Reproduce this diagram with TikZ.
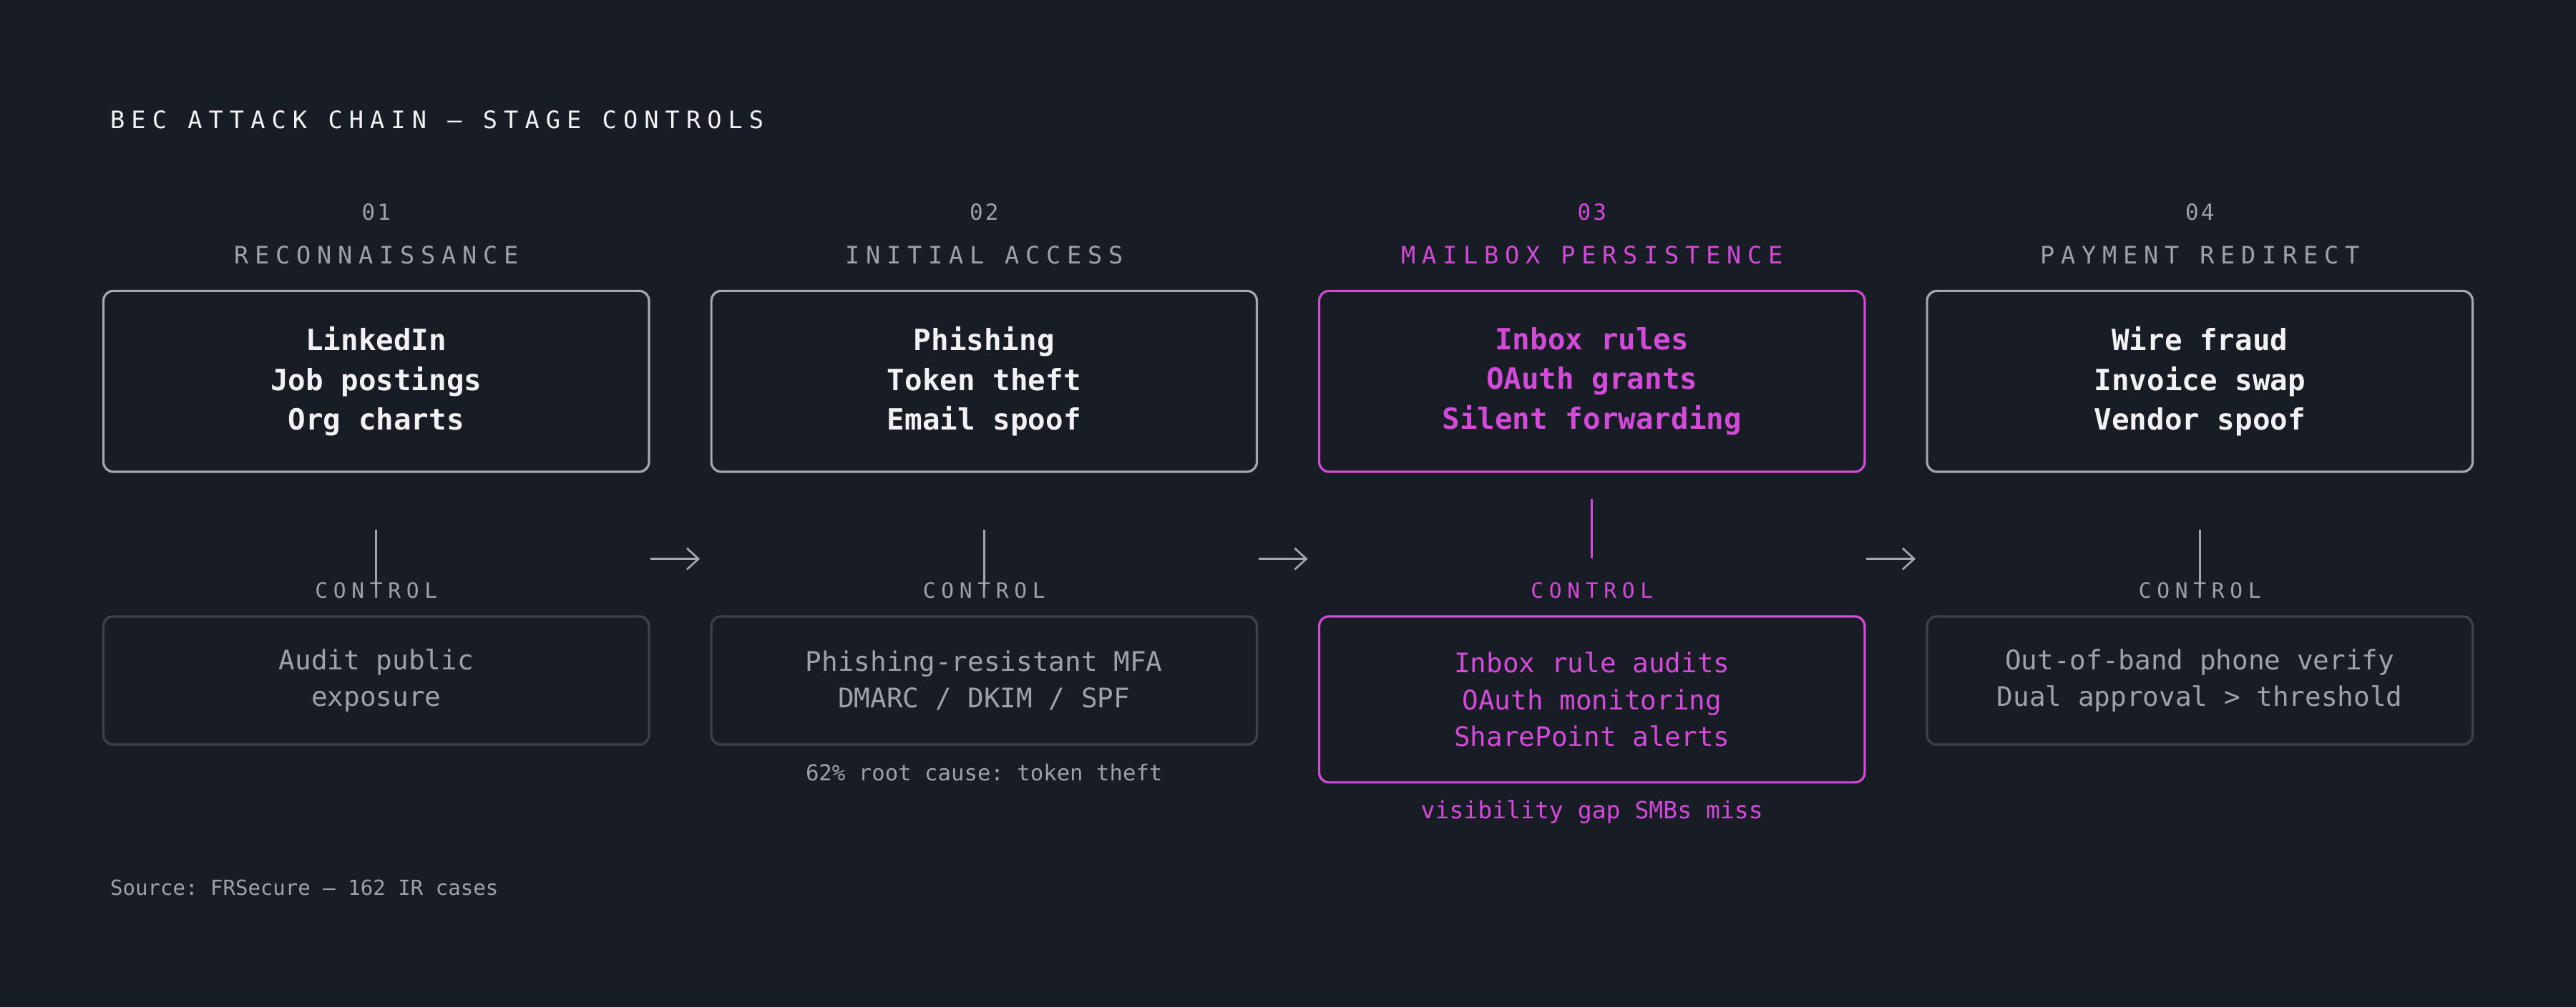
\documentclass[tikz,border=0pt]{standalone}
\usepackage{fontspec}
\setmonofont{DejaVu Sans Mono}
\usetikzlibrary{arrows.meta,positioning}
\definecolor{bgdark}{HTML}{181C25}
\definecolor{hotpink}{HTML}{D24BD8}
\definecolor{greytxt}{HTML}{9DA1AA}
\definecolor{boxline}{HTML}{A3A7AF}
\definecolor{ctrlline}{HTML}{3C414C}
\definecolor{whitetxt}{HTML}{F2F2F6}
\tikzset{
  stagebox/.style={draw=boxline, line width=1.2pt, rounded corners=5pt, inner sep=0pt,
    minimum width=9.96cm, minimum height=3.3cm, align=center, text=whitetxt,
    font=\ttfamily\bfseries\fontsize{15.2}{20.5}\selectfont},
  ctrlbox/.style={draw=ctrlline, line width=1.2pt, rounded corners=5pt, inner sep=0pt,
    minimum width=9.96cm, minimum height=2.34cm, align=center, text=greytxt,
    font=\ttfamily\fontsize{14}{19.2}\selectfont},
  stagenum/.style={text=greytxt, font=\ttfamily\fontsize{11.5}{12}\selectfont\addfontfeature{LetterSpace=10}},
  stagename/.style={text=greytxt, font=\ttfamily\fontsize{12.5}{13}\selectfont\addfontfeature{LetterSpace=26}},
  ctrllabel/.style={text=greytxt, font=\ttfamily\fontsize{11}{12}\selectfont\addfontfeature{LetterSpace=26}},
  note/.style={text=greytxt, font=\ttfamily\fontsize{11.4}{12}\selectfont},
  link/.style={draw=boxline, line width=1pt},
  flow/.style={draw=boxline, line width=1pt, -{Straight Barb[length=6pt,width=11pt]}},
  hot/.style={draw=hotpink, text=hotpink}
}
\begin{document}
\begin{tikzpicture}[x=0.03cm,y=-0.03cm]
    % background
    \fill[bgdark] (0,0) rectangle (1568,613);
    \useasboundingbox (0,0) rectangle (1568,613);

    % title
    \node[anchor=west, text=whitetxt, font=\ttfamily\fontsize{12.5}{13}\selectfont\addfontfeature{LetterSpace=27}] (title) at (63,73) {BEC ATTACK CHAIN — STAGE CONTROLS};

    % stage 01
    \node[stagenum] (num1) at (229,129) {01};
    \node[stagename] (name1) at (229,155) {RECONNAISSANCE};
    \node[stagebox] (stage1) at (229,232) {LinkedIn\\Job postings\\Org charts};
    \node[ctrllabel] (ctl1) at (229,359) {CONTROL};
    \node[ctrlbox] (ctrl1) at (229,414) {Audit public\\exposure};

    % stage 02
    \node[stagenum] (num2) at (599,129) {02};
    \node[stagename] (name2) at (599,155) {INITIAL ACCESS};
    \node[stagebox] (stage2) at (599,232) {Phishing\\Token theft\\Email spoof};
    \node[ctrllabel] (ctl2) at (599,359) {CONTROL};
    \node[ctrlbox] (ctrl2) at (599,414) {Phishing-resistant MFA\\DMARC / DKIM / SPF};
    \node[note] (note2) at (599,470) {62\% root cause: token theft};

    % stage 03 (highlighted)
    \node[stagenum, text=hotpink] (num3) at (969,129) {03};
    \node[stagename, text=hotpink] (name3) at (969,155) {MAILBOX PERSISTENCE};
    \node[stagebox, hot] (stage3) at (969,232) {Inbox rules\\OAuth grants\\Silent forwarding};
    \node[ctrllabel, text=hotpink] (ctl3) at (969,359) {CONTROL};
    \node[ctrlbox, hot, minimum height=3.03cm] (ctrl3) at (969,425.5) {Inbox rule audits\\OAuth monitoring\\SharePoint alerts};
    \node[note, text=hotpink, font=\ttfamily\fontsize{12.3}{13}\selectfont] (note3) at (969,494) {visibility gap SMBs miss};

    % stage 04
    \node[stagenum] (num4) at (1339,129) {04};
    \node[stagename] (name4) at (1339,155) {PAYMENT REDIRECT};
    \node[stagebox] (stage4) at (1339,232) {Wire fraud\\Invoice swap\\Vendor spoof};
    \node[ctrllabel] (ctl4) at (1339,359) {CONTROL};
    \node[ctrlbox] (ctrl4) at (1339,414) {Out-of-band phone verify\\Dual approval > threshold};

    % stage to control ticks
    \foreach \i in {1,2,4} {
        \draw[link] ([yshift=-16\pgflinewidth]stage\i.south) ++(0,16) coordinate (t\i) -- ++(0,36);
    }
    \draw[link, draw=hotpink] (stage3.south) ++(0,16) -- ++(0,36);

    % flow arrows
    \coordinate (a1) at (396,340);
    \coordinate (b1) at (426,340);
    \coordinate (a2) at (766,340);
    \coordinate (b2) at (796,340);
    \coordinate (a3) at (1136,340);
    \coordinate (b3) at (1166,340);
    \foreach \i in {1,2,3} {
        \draw[flow] (a\i) -- (b\i);
    }

    % source
    \node[anchor=west, note, font=\ttfamily\fontsize{10.8}{12}\selectfont] (source) at (63,540) {Source: FRSecure — 162 IR cases};
\end{tikzpicture}
\end{document}
